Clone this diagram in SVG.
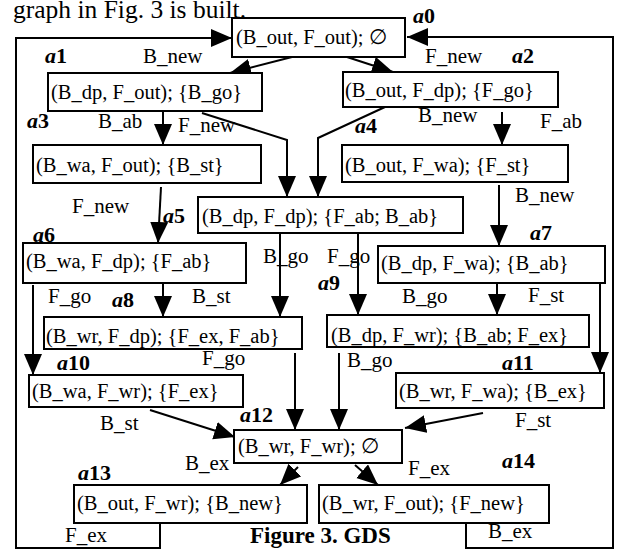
<svg xmlns="http://www.w3.org/2000/svg" width="619" height="551" viewBox="0 0 619 551">
<style>
text{font-family:"Liberation Serif","Times New Roman",serif;font-size:21px;fill:#000}
.box{fill:#fff;stroke:#000;stroke-width:2}
.nt{font-size:20.5px}
.lbl{font-weight:bold;font-size:22px}
.lbl tspan.i{font-style:italic}
.cap{font-weight:bold;font-size:23px}
.top{font-size:25.5px}
#edges path{fill:none;stroke:#000;stroke-width:2}
</style>
<defs>
<marker id="ah" markerUnits="userSpaceOnUse" markerWidth="22" markerHeight="20" refX="21" refY="9" orient="auto" viewBox="0 0 22 20">
<path d="M0,0 L21,9 L0,18 z" fill="#000"/>
</marker>
</defs>
<rect width="619" height="551" fill="#fff"/>
<g id="edges">
<path d="M160,512 L160,548 L16,548 L16,38 L232,38" marker-end="url(#ah)"/>
<path d="M466,517 L466,548 L613,548 L613,37 L407,37" marker-end="url(#ah)"/>
<path d="M292,57 L230,73" marker-end="url(#ah)"/>
<path d="M347,57 L393,72" marker-end="url(#ah)"/>
<path d="M163,111 L163,145" marker-end="url(#ah)"/>
<path d="M202,113 L287,140 L287,197" marker-end="url(#ah)"/>
<path d="M385,107 L318,138 L318,197" marker-end="url(#ah)"/>
<path d="M502,112 L502,145" marker-end="url(#ah)"/>
<path d="M161,187 L158,243" marker-end="url(#ah)"/>
<path d="M499,185 L499,246" marker-end="url(#ah)"/>
<path d="M280,233 L280,317" marker-end="url(#ah)"/>
<path d="M358,233 L358,315" marker-end="url(#ah)"/>
<path d="M33,285 L33,375" marker-end="url(#ah)"/>
<path d="M163,283 L163,317" marker-end="url(#ah)"/>
<path d="M497,283 L497,315" marker-end="url(#ah)"/>
<path d="M600,283 L600,373" marker-end="url(#ah)"/>
<path d="M295,353 L295,430" marker-end="url(#ah)"/>
<path d="M339,353 L339,430" marker-end="url(#ah)"/>
<path d="M150,410 L235,437" marker-end="url(#ah)"/>
<path d="M483,413 L405,428" marker-end="url(#ah)"/>
<path d="M298,467 L280,485" marker-end="url(#ah)"/>
<path d="M355,465 L378,485" marker-end="url(#ah)"/>
</g>
<g id="edge-labels">
<text x="143" y="63">B_new</text>
<text x="425" y="63">F_new</text>
<text x="98" y="128">B_ab</text>
<text x="178" y="132">F_new</text>
<text x="418" y="122">B_new</text>
<text x="540" y="128">F_ab</text>
<text x="72" y="213">F_new</text>
<text x="515" y="202">B_new</text>
<text x="263" y="263">B_go</text>
<text x="327" y="263">F_go</text>
<text x="48" y="303">F_go</text>
<text x="192" y="303">B_st</text>
<text x="402" y="303">B_go</text>
<text x="528" y="302">F_st</text>
<text x="202" y="365">F_go</text>
<text x="347" y="367">B_go</text>
<text x="100" y="430">B_st</text>
<text x="515" y="427">F_st</text>
<text x="185" y="470">B_ex</text>
<text x="408" y="475">F_ex</text>
<text x="65" y="542">F_ex</text>
<text x="488" y="538">B_ex</text>
</g>
<g id="a0"><rect class="box" x="232" y="18" width="173" height="39"/><text class="nt" x="236" y="44">(B_out, F_out); ∅</text><text class="lbl" x="413" y="23"><tspan class="i">a</tspan>0</text></g>
<g id="a1"><rect class="box" x="48" y="73" width="214" height="38"/><text class="nt" x="51" y="99">(B_dp, F_out); {B_go}</text><text class="lbl" x="45" y="63"><tspan class="i">a</tspan>1</text></g>
<g id="a2"><rect class="box" x="343" y="72" width="215" height="35"/><text class="nt" x="345" y="97">(B_out, F_dp); {F_go}</text><text class="lbl" x="512" y="63"><tspan class="i">a</tspan>2</text></g>
<g id="a3"><rect class="box" x="33" y="145" width="228" height="38"/><text class="nt" x="36" y="172">(B_wa, F_out); {B_st}</text><text class="lbl" x="27" y="128"><tspan class="i">a</tspan>3</text></g>
<g id="a4"><rect class="box" x="342" y="145" width="226" height="37"/><text class="nt" x="345" y="172">(B_out, F_wa); {F_st}</text><text class="lbl" x="355" y="133"><tspan class="i">a</tspan>4</text></g>
<g id="a5"><rect class="box" x="198" y="197" width="265" height="36"/><text class="nt" x="202" y="223">(B_dp, F_dp); {F_ab; B_ab}</text><text class="lbl" x="163" y="223"><tspan class="i">a</tspan>5</text></g>
<g id="a6"><rect class="box" x="23" y="243" width="223" height="40"/><text class="nt" x="26" y="268">(B_wa, F_dp); {F_ab}</text><text class="lbl" x="33" y="242"><tspan class="i">a</tspan>6</text></g>
<g id="a7"><rect class="box" x="378" y="246" width="227" height="37"/><text class="nt" x="381" y="270">(B_dp, F_wa); {B_ab}</text><text class="lbl" x="530" y="240"><tspan class="i">a</tspan>7</text></g>
<g id="a8"><rect class="box" x="44" y="317" width="258" height="32"/><text class="nt" x="46" y="343">(B_wr, F_dp); {F_ex, F_ab}</text><text class="lbl" x="112" y="307"><tspan class="i">a</tspan>8</text></g>
<g id="a9"><rect class="box" x="327" y="315" width="262" height="32"/><text class="nt" x="331" y="342">(B_dp, F_wr); {B_ab; F_ex}</text><text class="lbl" x="318" y="290"><tspan class="i">a</tspan>9</text></g>
<g id="a10"><rect class="box" x="29" y="375" width="214" height="32"/><text class="nt" x="32" y="398">(B_wa, F_wr); {F_ex}</text><text class="lbl" x="57" y="370"><tspan class="i">a</tspan>10</text></g>
<g id="a11"><rect class="box" x="396" y="373" width="208" height="35"/><text class="nt" x="399" y="398">(B_wr, F_wa); {B_ex}</text><text class="lbl" x="502" y="370"><tspan class="i">a</tspan>11</text></g>
<g id="a12"><rect class="box" x="234" y="430" width="168" height="33"/><text class="nt" x="238" y="453">(B_wr, F_wr); ∅</text><text class="lbl" x="240" y="422"><tspan class="i">a</tspan>12</text></g>
<g id="a13"><rect class="box" x="74" y="485" width="233" height="38"/><text class="nt" x="77" y="510">(B_out, F_wr); {B_new}</text><text class="lbl" x="78" y="480"><tspan class="i">a</tspan>13</text></g>
<g id="a14"><rect class="box" x="319" y="485" width="230" height="38"/><text class="nt" x="322" y="510">(B_wr, F_out); {F_new}</text><text class="lbl" x="502" y="468"><tspan class="i">a</tspan>14</text></g>
<text class="cap" x="250" y="543">Figure 3. GDS</text>
<text class="top" x="13" y="18">graph in Fig. 3 is built.</text>
</svg>
